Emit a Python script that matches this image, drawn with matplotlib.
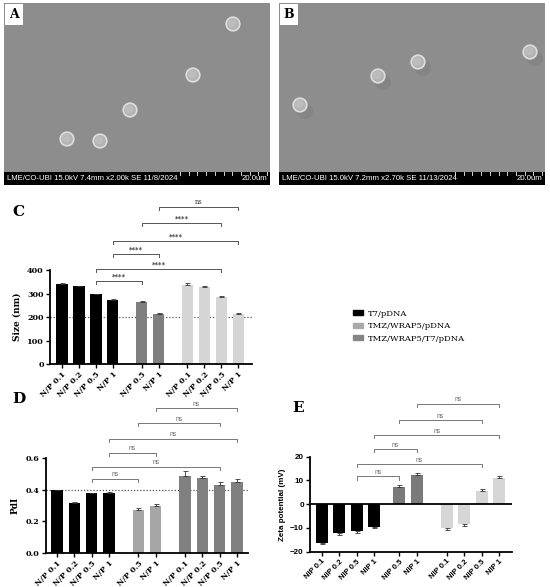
import matplotlib.pyplot as plt
from matplotlib.patches import Rectangle, Circle, Patch

# --- datos ---
etiquetas = ['N/P 0.1', 'N/P 0.2', 'N/P 0.5', 'N/P 1',
             'N/P 0.5', 'N/P 1',
             'N/P 0.1', 'N/P 0.2', 'N/P 0.5', 'N/P 1']
etiquetas_e = [e.replace('N/P', 'NIP') for e in etiquetas]

tam_nm = [342, 330, 296, 274, 264, 214, 338, 327, 284, 213]
tam_err = [3, 2, 3, 2, 4, 3, 5, 4, 4, 3]

pdi = [0.397, 0.318, 0.378, 0.381, 0.275, 0.297, 0.49, 0.472, 0.43, 0.452]
pdi_err = [0.004, 0.003, 0.003, 0.004, 0.007, 0.012, 0.027, 0.018, 0.02, 0.018]

zeta = [-16.2, -12.3, -11.3, -9.5, 7.3, 12.3, -9.9, -8.2, 5.6, 11.1]
zeta_err = [0.6, 0.6, 0.9, 0.6, 0.7, 1.0, 0.8, 0.9, 0.8, 0.9]

# pares comparados (indice barra 1, indice barra 2)
pares = [(2, 4), (2, 8), (3, 5), (3, 9), (4, 8), (5, 9)]
alturas_c = [353, 404, 468, 523, 600, 668]
textos_c = ['****', '****', '****', '****', '****', 'ns']
alturas_d = [0.467, 0.543, 0.632, 0.72, 0.82, 0.916]
alturas_e = [11.7, 16.8, 23.1, 29.0, 35.3, 42.1]

# particulas SEM (x, y) en pixeles de la imagen
part_a_x = [229, 189, 126, 63, 96]
part_a_y = [21, 72, 107, 136, 138]
part_b_x = [251, 139, 99, 21]
part_b_y = [49, 59, 73, 102]

leyenda = ['T7/pDNA', 'TMZ/WRAP5/pDNA', 'TMZ/WRAP5/T7/pDNA']

W, H = 550, 587
fig = plt.figure(figsize=(W / 100, H / 100), dpi=100)
fig.patch.set_facecolor('white')

SERIF = 'DejaVu Serif'
SANS = 'Liberation Sans'


def ejes_px(izq, arriba, der, abajo):
    return fig.add_axes([izq / W, 1 - abajo / H, (der - izq) / W, (abajo - arriba) / H])


# --- imagenes SEM ---
def panel_sem(izq, letra, px, py, info, sombra):
    ax = ejes_px(izq, 3, izq + 266, 185)
    ax.set_xlim(0, 266)
    ax.set_ylim(182, 0)
    ax.set_facecolor('#8d8d8d')
    ax.set_xticks([])
    ax.set_yticks([])
    for s in ax.spines.values():
        s.set_visible(False)
    for x, y in zip(px, py):
        if sombra:
            ax.add_patch(Circle((x + 5, y + 6), 8, color='#808080', alpha=0.6, lw=0))
        ax.add_patch(Circle((x, y), 6.8, facecolor='#b4b4b4', edgecolor='#dedede', lw=1.2))
        ax.add_patch(Circle((x - 0.8, y - 0.8), 4.2, facecolor='#bdbdbd', lw=0))
    ax.add_patch(Rectangle((0, 169), 266, 13, color='black', lw=0))
    ax.text(3, 176, info, color='white', fontsize=5.6, family=SANS, va='center')
    ax.text(263, 176, '20.0um', color='white', fontsize=5.6, family=SANS, va='center', ha='right')
    for i in range(11):
        xt = 176 + i * 8.7
        ax.plot([xt, xt], [169, 171.5], color='white', lw=0.6)
    ax.add_patch(Rectangle((1, 1), 18, 21, color='white', lw=0))
    ax.text(10, 12, letra, fontsize=9, fontweight='bold', family=SERIF, ha='center', va='center')


panel_sem(4, 'A', part_a_x, part_a_y, 'LME/CO-UBI 15.0kV 7.4mm x2.00k SE 11/8/2024', False)
panel_sem(279, 'B', part_b_x, part_b_y, 'LME/CO-UBI 15.0kV 7.2mm x2.70k SE 11/13/2024', True)


# --- graficos de barras ---
def grafico(ax, pos, valores, errores, colores, etiq, fam, lim, ticks, paso_izq, paso_der):
    ax.bar(pos, valores, width=0.67, color=colores, zorder=2)
    for x, v, e in zip(pos, valores, errores):
        yerr = [[0], [e]] if v >= 0 else [[e], [0]]
        ax.errorbar(x, v, yerr=yerr, color='#333333', capsize=1.8, lw=0.6, capthick=0.6, zorder=3)
    ax.set_xlim(pos[0] - paso_izq, pos[-1] + paso_der)
    ax.set_ylim(*lim)
    ax.set_yticks(ticks)
    ax.spines['top'].set_visible(False)
    ax.spines['right'].set_visible(False)
    ax.spines['left'].set_bounds(ticks[0], ticks[-1])
    ax.spines['left'].set_linewidth(1.3)
    ax.spines['bottom'].set_linewidth(1.3)
    ax.set_xticks(pos)
    ax.set_xticklabels(etiq, rotation=45, ha='right', rotation_mode='anchor',
                       fontsize=5.6, fontweight='bold', family=fam)
    ax.tick_params(axis='both', length=3, width=1, pad=1.5)
    for t in ax.get_yticklabels():
        t.set_fontsize(5.8)
        t.set_fontweight('bold')
        t.set_family(fam)
    ax.patch.set_alpha(0)


def corchetes(ax, pos, alturas, textos, caida, color, color_txt, fam):
    for (i, j), y, t in zip(pares, alturas, textos):
        ax.plot([pos[i], pos[i], pos[j], pos[j]], [y - caida, y, y, y - caida],
                color=color, lw=0.7, clip_on=False)
        ax.text((pos[i] + pos[j]) / 2, y + caida * 0.25, t, ha='center', va='bottom',
                fontsize=4.8, color=color_txt, family=fam, fontweight='bold' if t != 'ns' else 'normal')


pos_cd = [0, 1, 2, 3, 4.7, 5.7, 7.4, 8.4, 9.4, 10.4]
pos_e = [0, 1, 2, 3, 4.43, 5.43, 7.14, 8.14, 9.14, 10.14]

# C
ax_c = ejes_px(50, 200, 252, 364)
col_c = ['black'] * 4 + ['#7f7f7f'] * 2 + ['#d5d5d5'] * 4
grafico(ax_c, pos_cd, tam_nm, tam_err, col_c, etiquetas, SERIF, (0, 698), [0, 100, 200, 300, 400], 0.7, 0.8)
ax_c.axhline(200, color='#555555', ls=(0, (1, 1.5)), lw=0.9, zorder=1)
ax_c.set_ylabel('Size (nm)', fontsize=6.5, fontweight='bold', family=SERIF, labelpad=3)
ax_c.yaxis.set_label_coords(-0.14, 0.29)
corchetes(ax_c, pos_cd, alturas_c, textos_c, 13, '#555555', '#333333', SERIF)
fig.text(12 / W, 1 - 212 / H, 'C', fontsize=11, fontweight='bold', family=SERIF, va='center')

# leyenda
manejadores = [Patch(color='black'), Patch(color='#a9a9a9'), Patch(color='#858585')]
fig.legend(manejadores, leyenda, loc='upper left', bbox_to_anchor=(345 / W, 1 - 302 / H),
           frameon=False, prop={'family': SERIF, 'size': 6}, handlelength=1.2,
           handleheight=0.5, labelspacing=0.55, handletextpad=0.7)

# D
ax_d = ejes_px(46, 395, 248, 553)
col_d = ['black'] * 4 + ['#a6a6a6'] * 2 + ['#808080'] * 4
grafico(ax_d, pos_cd, pdi, pdi_err, col_d, etiquetas, SERIF, (0, 1.0), [0.0, 0.2, 0.4, 0.6], 0.64, 0.64)
ax_d.set_yticklabels(['0.0', '0.2', '0.4', '0.6'])
for t in ax_d.get_yticklabels():
    t.set_fontsize(5.8)
    t.set_fontweight('bold')
    t.set_family(SERIF)
ax_d.axhline(0.4, color='#555555', ls=(0, (1, 1.5)), lw=0.9, zorder=1)
ax_d.set_ylabel('PdI', fontsize=6.5, fontweight='bold', family=SERIF)
ax_d.yaxis.set_label_coords(-0.13, 0.3)
corchetes(ax_d, pos_cd, alturas_d, ['ns'] * 6, 0.019, '#777777', '#666666', SANS)
fig.text(12 / W, 1 - 399 / H, 'D', fontsize=11, fontweight='bold', family=SERIF, va='center')

# E
ax_e = ejes_px(310, 395, 512, 551.7)
col_e = ['black'] * 4 + ['#7a7a7a'] * 2 + ['#d6d6d6'] * 4
grafico(ax_e, pos_e, zeta, zeta_err, col_e, etiquetas_e, SANS, (-20, 46), [-20, -10, 0, 10, 20], 0.67, 0.73)
ax_e.axhline(0, color='black', lw=1.3, zorder=4)
ax_e.set_ylabel('Zeta potential (mV)', fontsize=5.8, fontweight='bold', family=SANS)
ax_e.yaxis.set_label_coords(-0.12, 0.3)
corchetes(ax_e, pos_e, alturas_e, ['ns'] * 6, 1.3, '#777777', '#666666', SANS)
fig.text(292 / W, 1 - 408 / H, 'E', fontsize=11, fontweight='bold', family=SERIF, va='center')

fig.savefig('out.png', dpi=100)
